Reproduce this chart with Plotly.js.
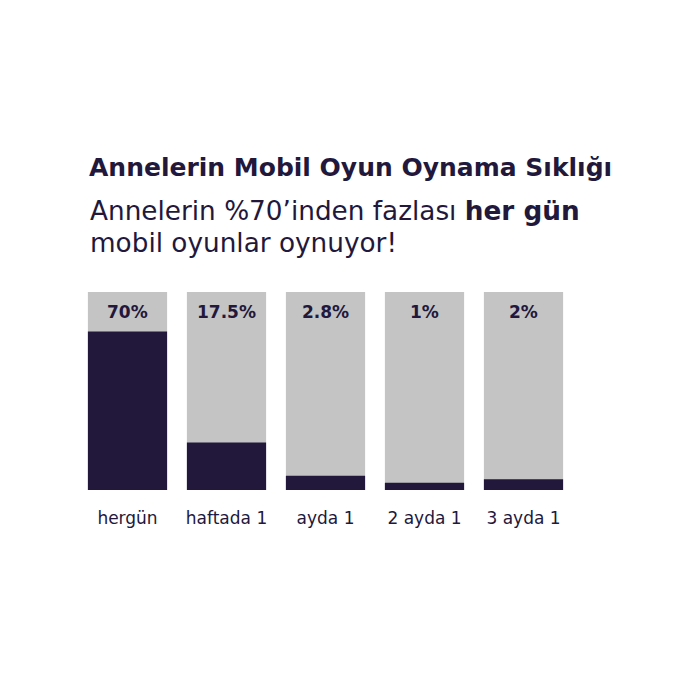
<!DOCTYPE html>
<html>
<head>
<meta charset="utf-8">
<script src="https://cdn.plot.ly/plotly-3.0.1.min.js"></script>
<style>
  html, body { margin: 0; padding: 0; background: #ffffff; }
  #chart { width: 700px; height: 700px; }
</style>
</head>
<body>
<div id="chart"></div>
<script>
// categories and values as printed on the chart
const categories = ['hergün', 'haftada 1', 'ayda 1', '2 ayda 1', '3 ayda 1'];
const shareLabels = ['70%', '17.5%', '2.8%', '1%', '2%'];
const barHeights = [80, 24, 7.2, 3.7, 5.4];
const fullHeights = [100, 100, 100, 100, 100];
const subtitleLines = ['Annelerin %70’inden fazlası <b>her gün</b>', 'mobil oyunlar oynuyor!'];

const DARK = '#22183c';
const GREY = '#c4c4c4';
const FONT = '"DejaVu Sans", sans-serif';

const traceBack = {
    x: categories, y: fullHeights, type: 'bar', name: 'toplam',
    marker: { color: GREY }, hoverinfo: 'skip',
};
const traceValue = {
    x: categories, y: barHeights, type: 'bar', name: 'oran',
    marker: { color: DARK },
};

const labelNotes = categories.map((c, i) => ({
    x: c, y: 100, xref: 'x', yref: 'y', text: '<b>' + shareLabels[i] + '</b>',
    showarrow: false, yanchor: 'top', yshift: -8,
    font: { family: FONT, size: 17, color: DARK },
}));

// subtitle lines, centred on 211px and 243px from the top
const subNotes = subtitleLines.map((t, i) => ({
    xref: 'paper', yref: 'paper', x: (88 - 78) / 495, xanchor: 'left',
    y: (490 - (211 + i * 32)) / 198, yanchor: 'middle', align: 'left', showarrow: false,
    text: t, font: { family: FONT, size: 26.3, color: DARK },
}));

const layout = {
    width: 700, height: 700,
    barmode: 'overlay', bargap: 0.2,
    paper_bgcolor: '#ffffff', plot_bgcolor: '#ffffff',
    margin: { l: 78, r: 127, t: 292, b: 210 },
    showlegend: false,
    font: { family: FONT, color: DARK },
    title: {
        text: '<b>Annelerin Mobil Oyun Oynama Sıklığı</b>',
        x: 89 / 700, xanchor: 'left', xref: 'container',
        y: 1 - 167 / 700, yanchor: 'middle', yref: 'container',
        font: { family: FONT, size: 25, color: DARK },
    },
    xaxis: {
        showgrid: false, zeroline: false, showline: false,
        ticks: 'outside', ticklen: 13, tickcolor: 'rgba(0,0,0,0)',
        tickfont: { family: FONT, size: 17, color: DARK },
    },
    yaxis: {
        range: [0, 100], visible: false, fixedrange: true,
    },
    annotations: subNotes.concat(labelNotes),
};

Plotly.newPlot('chart', [traceBack, traceValue], layout, { displayModeBar: false, staticPlot: true });
</script>
</body>
</html>
